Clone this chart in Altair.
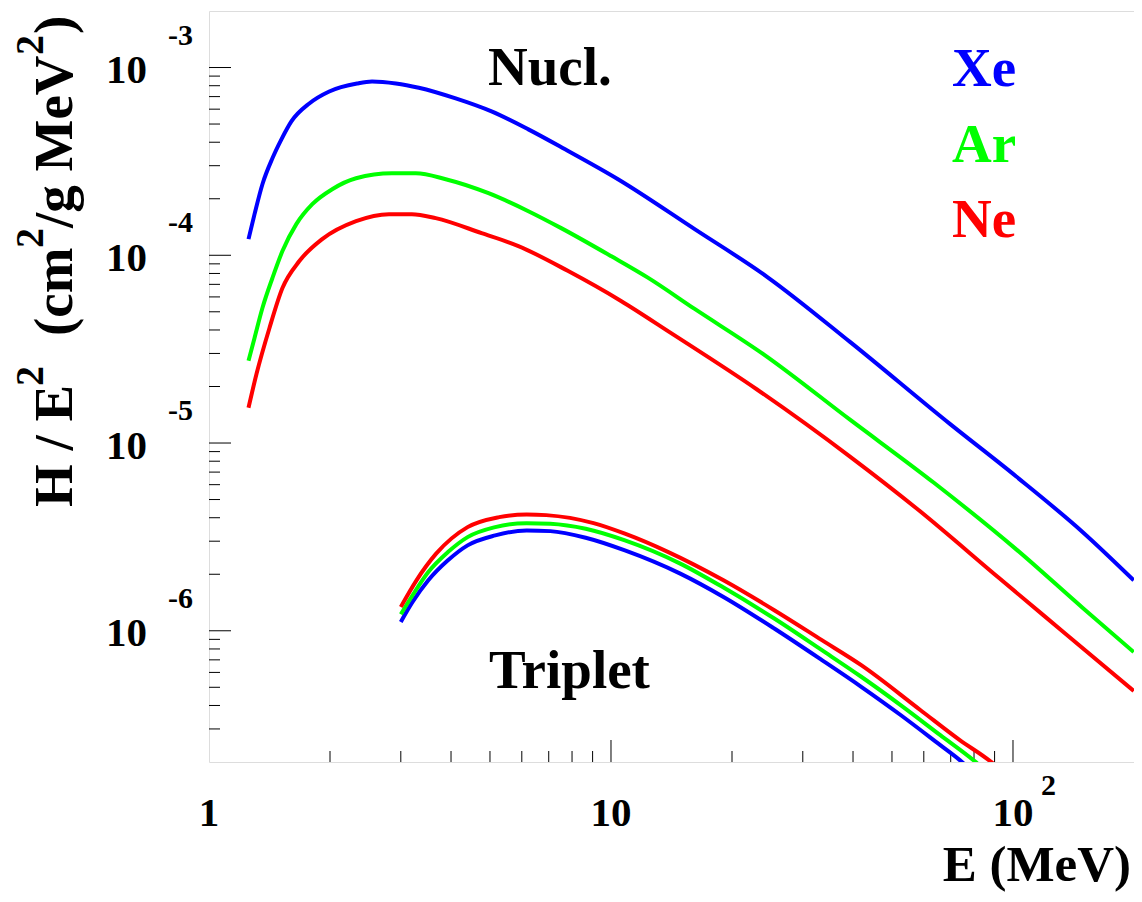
import altair as alt
import pandas as pd

# ---------------- data ----------------
E_XE_NUCL = [1.254, 1.298, 1.358, 1.438, 1.514, 1.603, 1.776, 1.991, 2.335, 2.544, 2.917, 3.326,
             4.108, 5.044, 6.230, 7.69, 10.41, 16.15, 24.49, 39.31, 69.55, 101.9, 149.4, 199.7]
H_XE_NUCL = [1.219e-4, 1.656e-4, 2.39e-4, 3.285e-4, 4.143e-4, 5.164e-4, 6.436e-4, 7.456e-4, 8.222e-4,
             8.425e-4, 8.222e-4, 7.8e-4, 6.844e-4, 5.836e-4, 4.683e-4, 3.667e-4, 2.541e-4, 1.378e-4,
             7.66e-5, 3.457e-5, 1.268e-5, 6.63e-6, 3.34e-6, 1.857e-6]

E_AR_NUCL = [1.254, 1.298, 1.358, 1.438, 1.523, 1.649, 1.807, 2.025, 2.322, 2.851, 3.269, 3.88,
             4.958, 6.230, 7.518, 10.0, 12.35, 16.15, 24.07, 39.31, 63.47, 101.9, 149.4, 199.7]
H_AR_NUCL = [2.74e-5, 3.63e-5, 5.24e-5, 7.565e-5, 1.053e-4, 1.465e-4, 1.871e-4, 2.248e-4, 2.571e-4,
             2.733e-4, 2.733e-4, 2.541e-4, 2.141e-4, 1.717e-4, 1.395e-4, 9.9e-5, 7.6e-5, 5.177e-5,
             2.949e-5, 1.331e-5, 6.16e-6, 2.714e-6, 1.318e-6, 7.7e-7]

E_NE_NUCL = [1.254, 1.313, 1.414, 1.523, 1.678, 1.912, 2.322, 2.804, 3.196, 3.664, 4.764, 5.884,
             7.826, 10.59, 14.08, 23.13, 39.31, 57.6, 92.5, 135.5, 199.7]
H_NE_NUCL = [1.542e-5, 2.337e-5, 4.1e-5, 6.69e-5, 9.315e-5, 1.219e-4, 1.52e-4, 1.656e-4, 1.656e-4,
             1.577e-4, 1.312e-4, 1.119e-4, 8.24e-5, 5.71e-5, 3.86e-5, 1.922e-5, 8.47e-6, 4.48e-6,
             1.903e-6, 9.59e-7, 4.78e-7]

E_XE_TRIP = [3.0, 3.209, 3.512, 3.93, 4.398, 5.152, 6.17, 7.063, 8.65, 10.83, 14.87, 19.05, 25.48,
             33.47, 41.93, 52.53, 65.82, 73.6, 85.9]
H_XE_TRIP = [1.115e-6, 1.424e-6, 1.857e-6, 2.372e-6, 2.85e-6, 3.22e-6, 3.424e-6, 3.394e-6, 3.13e-6,
             2.68e-6, 2.016e-6, 1.514e-6, 1.028e-6, 6.98e-7, 5.03e-7, 3.56e-7, 2.466e-7, 2.053e-7, 1.512e-7]

E_AR_TRIP = [3.0, 3.209, 3.512, 3.93, 4.398, 5.152, 6.17, 7.063, 8.65, 10.83, 14.87, 19.05, 25.48,
             33.47, 41.93, 52.53, 65.82, 80.67, 93.5]
H_AR_TRIP = [1.225e-6, 1.546e-6, 2.056e-6, 2.625e-6, 3.154e-6, 3.565e-6, 3.744e-6, 3.716e-6, 3.496e-6,
             3.03e-6, 2.279e-6, 1.698e-6, 1.162e-6, 7.88e-7, 5.69e-7, 4.02e-7, 2.788e-7, 2.003e-7, 1.512e-7]

E_NE_TRIP = [3.0, 3.282, 3.673, 4.398, 5.27, 6.17, 6.902, 9.05, 10.83, 13.89, 19.05, 25.48, 33.47,
             41.93, 58.8, 73.6, 88.2, 101.9]
H_NE_TRIP = [1.34e-6, 1.857e-6, 2.574e-6, 3.565e-6, 4.03e-6, 4.165e-6, 4.13e-6, 3.744e-6, 3.29e-6,
             2.625e-6, 1.857e-6, 1.287e-6, 8.91e-7, 6.56e-7, 3.785e-7, 2.623e-7, 2.003e-7, 1.512e-7]

GASES = ["Xe", "Ar", "Ne"]
GAS_COLORS = ["#0000ff", "#00ff00", "#ff0000"]

X_MAJOR = [10, 100]
X_MINOR = [2, 3, 4, 5, 6, 7, 8, 9, 20, 30, 40, 50, 60, 70, 80, 90]
Y_MAJOR = [1e-6, 1e-5, 1e-4, 1e-3]
Y_MINOR = [3e-7, 4e-7, 5e-7, 6e-7, 7e-7, 8e-7, 9e-7,
           2e-6, 3e-6, 4e-6, 5e-6, 6e-6, 7e-6, 8e-6, 9e-6,
           2e-5, 3e-5, 4e-5, 5e-5, 6e-5, 7e-5, 8e-5, 9e-5,
           2e-4, 3e-4, 4e-4, 5e-4, 6e-4, 7e-4, 8e-4, 9e-4]
X_LABEL_VALUES = [1, 10, 100]
X_LABEL_TEXT = ["1", "10", "10"]
Y_LABEL_VALUES = [1e-6, 1e-5, 1e-4, 1e-3]
Y_LABEL_EXP = ["-6", "-5", "-4", "-3"]

# ---------------- build tables ----------------
rows = []
for gas, grp, es, hs in [
    ("Xe", "nucl", E_XE_NUCL, H_XE_NUCL), ("Ar", "nucl", E_AR_NUCL, H_AR_NUCL),
    ("Ne", "nucl", E_NE_NUCL, H_NE_NUCL), ("Xe", "trip", E_XE_TRIP, H_XE_TRIP),
    ("Ar", "trip", E_AR_TRIP, H_AR_TRIP), ("Ne", "trip", E_NE_TRIP, H_NE_TRIP)]:
    for i, (e, h) in enumerate(zip(es, hs)):
        rows.append({"E": e, "H": h, "gas": gas, "series": gas + grp, "i": i})
df = pd.DataFrame(rows)

W, H = 925, 751
FONT = "Liberation Serif"
xs = alt.Scale(type="log", domain=[1, 200], nice=False)
ys = alt.Scale(type="log", domain=[2e-7, 2e-3], nice=False)

lines = alt.Chart(df).mark_line(strokeWidth=4, clip=True, interpolate="monotone").encode(
    x=alt.X("E:Q", scale=xs, axis=None),
    y=alt.Y("H:Q", scale=ys, axis=None),
    color=alt.Color("gas:N", scale=alt.Scale(domain=GASES, range=GAS_COLORS), legend=None),
    detail="series:N",
    order="i:Q",
)

def xticks(vals, length):
    return alt.Chart(pd.DataFrame({"v": vals})).mark_rule(color="black", strokeWidth=1).encode(
        x=alt.X("v:Q", scale=xs, axis=None), y=alt.value(H), y2=alt.value(H - length))

def yticks(vals, length):
    return alt.Chart(pd.DataFrame({"v": vals})).mark_rule(color="black", strokeWidth=1).encode(
        y=alt.Y("v:Q", scale=ys, axis=None), x=alt.value(0), x2=alt.value(length))

ylab = pd.DataFrame({"v": Y_LABEL_VALUES, "exp": Y_LABEL_EXP})
ylab_base = alt.Chart(ylab).mark_text(font=FONT, fontWeight="bold", fontSize=41, align="right",
                                      baseline="alphabetic", dy=15.5, text="10").encode(
    y=alt.Y("v:Q", scale=ys, axis=None), x=alt.value(-62))
ylab_exp = alt.Chart(ylab).mark_text(font=FONT, fontWeight="bold", fontSize=30, align="right",
                                     baseline="alphabetic", dy=-23).encode(
    y=alt.Y("v:Q", scale=ys, axis=None), x=alt.value(-16), text="exp:N")

xlab = pd.DataFrame({"v": X_LABEL_VALUES, "t": X_LABEL_TEXT})
xlab_base = alt.Chart(xlab).mark_text(font=FONT, fontWeight="bold", fontSize=41, align="center",
                                      baseline="alphabetic").encode(
    x=alt.X("v:Q", scale=xs, axis=None), y=alt.value(815), text="t:N")
xlab_exp = alt.Chart(pd.DataFrame({"v": [100], "t": ["2"]})).mark_text(
    font=FONT, fontWeight="bold", fontSize=30, align="left", baseline="alphabetic", dx=28).encode(
    x=alt.X("v:Q", scale=xs, axis=None), y=alt.value(784), text="t:N")

one = pd.DataFrame({"a": [0]})

def label(text, x, y, size, color="black", angle=0, align="left"):
    return alt.Chart(one).mark_text(text=text, font=FONT, fontWeight="bold", fontSize=size,
                                    color=color, angle=angle, align=align,
                                    baseline="alphabetic").encode(x=alt.value(x), y=alt.value(y))

texts = [
    label("E (MeV)", 922, 870, 51, align="right"),
    label("Nucl.", 279, 74, 55),
    label("Triplet", 280, 677, 55),
    label("Xe", 743, 75, 55, color=GAS_COLORS[0]),
    label("Ar", 743, 151, 55, color=GAS_COLORS[1]),
    label("Ne", 743, 226, 55, color=GAS_COLORS[2]),
    # rotated y title
    label("H / E", -137, 496, 55, angle=270),
    label("2", -166, 375, 40, angle=270),
    label("(cm", -137, 325, 55, angle=270),
    label("2", -166, 237, 40, angle=270),
    label("/g MeV", -137, 217, 55, angle=270),
    label("2", -166, 44, 40, angle=270),
    label(")", -137, 23, 55, angle=270),
]

chart = alt.layer(
    xticks(X_MAJOR, 22), xticks(X_MINOR, 11), yticks(Y_MAJOR, 22), yticks(Y_MINOR, 11),
    lines, ylab_base, ylab_exp, xlab_base, xlab_exp, *texts
).properties(
    width=W, height=H,
    autosize=alt.AutoSizeParams(type="none"),
    padding={"left": 201, "top": 3, "right": 0, "bottom": 132},
).configure_view(stroke="black", strokeWidth=2).configure(background="white")

chart.save("out.html", embed_options={"renderer": "svg", "actions": False})
